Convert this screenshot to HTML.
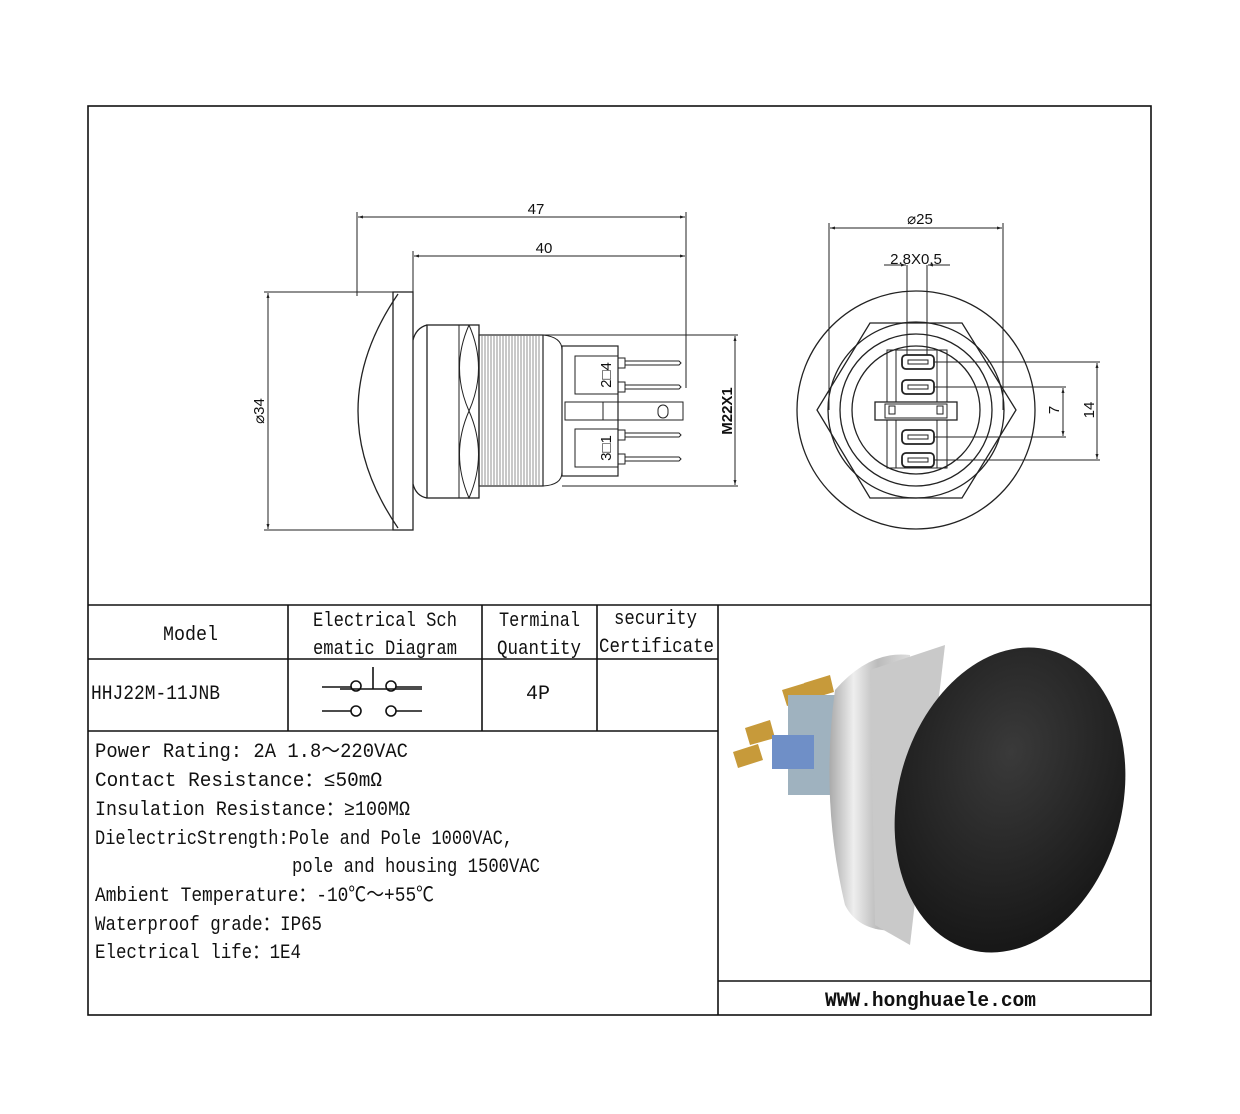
<!DOCTYPE html>
<html><head><meta charset="utf-8"><style>
html,body{margin:0;padding:0;background:#fff}
svg{display:block}
.t{font-family:"Liberation Mono","Noto Sans CJK SC",monospace;font-size:20px;fill:#111}
.d{font-family:"Liberation Sans",sans-serif;font-size:15px;fill:#111}
</style></head><body>
<svg width="1240" height="1114" viewBox="0 0 1240 1114" xmlns="http://www.w3.org/2000/svg">
<defs>
<marker id="a" viewBox="0 0 10 10" refX="10" refY="5" markerWidth="8" markerHeight="5" orient="auto-start-reverse"><path d="M0,2 L10,5 L0,8 z" fill="#222"/></marker>
<linearGradient id="sil" x1="0" y1="0" x2="1" y2="0"><stop offset="0" stop-color="#aaa"/><stop offset=".3" stop-color="#eee"/><stop offset=".6" stop-color="#bbb"/><stop offset="1" stop-color="#ddd"/></linearGradient>
<radialGradient id="blk" cx=".45" cy=".35" r=".7"><stop offset="0" stop-color="#3a3a3a"/><stop offset="1" stop-color="#151515"/></radialGradient>
</defs>
<g fill="none" stroke="#111" stroke-width="1.6">
<rect x="88" y="106" width="1063" height="909"/>
<line x1="88" y1="605" x2="1151" y2="605"/>
<line x1="88" y1="659" x2="718" y2="659"/>
<line x1="88" y1="731" x2="718" y2="731"/>
<line x1="288" y1="605" x2="288" y2="731"/>
<line x1="482" y1="605" x2="482" y2="731"/>
<line x1="597" y1="605" x2="597" y2="731"/>
<line x1="718" y1="605" x2="718" y2="1015"/>
<line x1="718" y1="981" x2="1151" y2="981"/>
</g>
<!-- side view -->
<g fill="none" stroke="#222" stroke-width="1">
<line x1="357" y1="212" x2="357" y2="296"/>
<line x1="686" y1="212" x2="686" y2="388"/>
<line x1="413" y1="251" x2="413" y2="292"/>
<line x1="358" y1="217" x2="685" y2="217" marker-start="url(#a)" marker-end="url(#a)"/>
<line x1="414" y1="256" x2="685" y2="256" marker-start="url(#a)" marker-end="url(#a)"/>
<line x1="264" y1="292" x2="398" y2="292"/>
<line x1="264" y1="530" x2="398" y2="530"/>
<line x1="268" y1="293" x2="268" y2="529" marker-start="url(#a)" marker-end="url(#a)"/>
<path d="M398 294 Q318 411 398 528" stroke-width="1.3"/>
<rect x="393" y="292" width="20" height="238" stroke-width="1.3"/>
<path d="M427 325 Q416 328 413 340 M413 484 Q416 496 427 498" stroke-width="1.3"/>
<rect x="427" y="325" width="52" height="173" stroke-width="1.3"/>
<line x1="459" y1="325" x2="459" y2="498"/>
<path d="M469 325 Q450 368 469 411 Q488 368 469 325 M469 411 Q450 454 469 498 Q488 454 469 411"/>
<rect x="479" y="335" width="64" height="151" stroke-width="1.2"/>
<path d="M543 335 Q562 337 562 350 L562 472 Q562 485 543 486"/>
<rect x="562" y="346" width="56" height="130" stroke-width="1.2"/>
<rect x="575" y="356" width="43" height="38"/>
<rect x="575" y="429" width="43" height="38"/>
<rect x="565" y="402" width="118" height="18" />
<line x1="603" y1="402" x2="603" y2="420"/>
<rect x="658" y="405" width="10" height="13" rx="5"/>
<rect x="618" y="358" width="7" height="10"/><rect x="618" y="382" width="7" height="10"/>
<rect x="618" y="430" width="7" height="10"/><rect x="618" y="454" width="7" height="10"/>
<path d="M625 361 L679 361 L681 363 L679 365 L625 365 M625 385 L679 385 L681 387 L679 389 L625 389 M625 433 L679 433 L681 435 L679 437 L625 437 M625 457 L679 457 L681 459 L679 461 L625 461"/>
<line x1="543" y1="335" x2="738" y2="335"/>
<line x1="562" y1="486" x2="738" y2="486"/>
<line x1="735" y1="336" x2="735" y2="485" marker-start="url(#a)" marker-end="url(#a)"/>
</g>
<g stroke="#777" stroke-width="0.8">
<path d="M482 335 V486 M485 335 V486 M488 335 V486 M491 335 V486 M494 335 V486 M497 335 V486 M500 335 V486 M503 335 V486 M506 335 V486 M509 335 V486 M512 335 V486 M515 335 V486 M518 335 V486 M521 335 V486 M524 335 V486 M527 335 V486 M530 335 V486 M533 335 V486 M536 335 V486 M539 335 V486"/>
</g>
<text class="d" x="536" y="214" text-anchor="middle">47</text>
<text class="d" x="544" y="253" text-anchor="middle">40</text>
<text class="d" transform="translate(264,411) rotate(-90)" text-anchor="middle">⌀34</text>
<text class="d" transform="translate(732,411) rotate(-90)" text-anchor="middle" font-weight="bold">M22X1</text>
<text class="d" transform="translate(611,375) rotate(-90)" text-anchor="middle" font-family="Liberation Serif">2□4</text>
<text class="d" transform="translate(611,448) rotate(-90)" text-anchor="middle" font-family="Liberation Serif">3□1</text>
<!-- front view -->
<g fill="none" stroke="#222" stroke-width="1.3">
<circle cx="916" cy="410" r="119"/>
<path d="M870 323 L962 323 L1016 410 L962 498 L870 498 L817 410 Z"/>
<circle cx="916" cy="410" r="88"/>
<circle cx="916" cy="410" r="76"/>
<circle cx="916" cy="410" r="64"/>
<rect x="887" y="350" width="60" height="118" stroke-width="1"/>
<rect x="896" y="350" width="41" height="118" stroke-width="1"/>
<rect x="875" y="402" width="82" height="18" fill="#fff"/>
<rect x="885" y="404" width="62" height="14" fill="#fff" stroke-width="1"/>
<rect x="889" y="406" width="6" height="8" stroke-width="1"/>
<rect x="937" y="406" width="6" height="8" stroke-width="1"/>
<g stroke-width="1.8" fill="#fff">
<rect x="902" y="355" width="32" height="14" rx="4"/>
<rect x="902" y="380" width="32" height="14" rx="4"/>
<rect x="902" y="430" width="32" height="14" rx="4"/>
<rect x="902" y="453" width="32" height="14" rx="4"/>
</g>
<g stroke-width="1"><rect x="908" y="360" width="20" height="4"/><rect x="908" y="385" width="20" height="4"/><rect x="908" y="435" width="20" height="4"/><rect x="908" y="458" width="20" height="4"/></g>
</g>
<g fill="none" stroke="#222" stroke-width="1">
<line x1="829" y1="223" x2="829" y2="410"/>
<line x1="1003" y1="223" x2="1003" y2="410"/>
<line x1="830" y1="228" x2="1002" y2="228" marker-start="url(#a)" marker-end="url(#a)"/>
<line x1="907" y1="265" x2="907" y2="355"/>
<line x1="927" y1="265" x2="927" y2="355"/>
<line x1="884" y1="265" x2="906" y2="265" marker-end="url(#a)"/>
<line x1="950" y1="265" x2="928" y2="265" marker-end="url(#a)"/>
<line x1="934" y1="362" x2="1100" y2="362"/>
<line x1="934" y1="460" x2="1100" y2="460"/>
<line x1="934" y1="387" x2="1066" y2="387"/>
<line x1="934" y1="437" x2="1066" y2="437"/>
<line x1="1063" y1="388" x2="1063" y2="436" marker-start="url(#a)" marker-end="url(#a)"/>
<line x1="1097" y1="363" x2="1097" y2="459" marker-start="url(#a)" marker-end="url(#a)"/>
</g>
<text class="d" x="920" y="224" text-anchor="middle">⌀25</text>
<text class="d" x="916" y="264" text-anchor="middle" font-family="Liberation Mono" font-size="16">2.8X0.5</text>
<text class="d" transform="translate(1059,410) rotate(-90)" text-anchor="middle">7</text>
<text class="d" transform="translate(1094,410) rotate(-90)" text-anchor="middle">14</text>
<!-- table text -->
<g class="t">
<text x="163" y="640" textLength="55" lengthAdjust="spacingAndGlyphs">Model</text>
<text x="313" y="626" textLength="144" lengthAdjust="spacingAndGlyphs">Electrical Sch</text>
<text x="313" y="654" textLength="144" lengthAdjust="spacingAndGlyphs">ematic Diagram</text>
<text x="499" y="626" textLength="81" lengthAdjust="spacingAndGlyphs">Terminal</text>
<text x="497" y="654" textLength="84" lengthAdjust="spacingAndGlyphs">Quantity</text>
<text x="614" y="624" textLength="83" lengthAdjust="spacingAndGlyphs">security</text>
<text x="599" y="652" textLength="115" lengthAdjust="spacingAndGlyphs">Certificate</text>
<text x="91" y="699" textLength="129" lengthAdjust="spacingAndGlyphs">HHJ22M-11JNB</text>
<text x="538" y="699" text-anchor="middle">4P</text>
<text x="95" y="757" textLength="313" lengthAdjust="spacingAndGlyphs">Power Rating: 2A  1.8～220VAC</text>
<text x="95" y="786" textLength="287" lengthAdjust="spacingAndGlyphs">Contact Resistance：≤50mΩ</text>
<text x="95" y="815" textLength="315" lengthAdjust="spacingAndGlyphs">Insulation Resistance：≥100MΩ</text>
<text x="95" y="844" textLength="418" lengthAdjust="spacingAndGlyphs">DielectricStrength:Pole and Pole 1000VAC,</text>
<text x="292" y="872" textLength="248" lengthAdjust="spacingAndGlyphs">pole and housing 1500VAC</text>
<text x="95" y="901" textLength="339" lengthAdjust="spacingAndGlyphs">Ambient Temperature：-10℃～+55℃</text>
<text x="95" y="930" textLength="227" lengthAdjust="spacingAndGlyphs">Waterproof grade：IP65</text>
<text x="95" y="958" textLength="206" lengthAdjust="spacingAndGlyphs">Electrical life：1E4</text>
<text x="825" y="1006" font-weight="bold" textLength="211" lengthAdjust="spacingAndGlyphs">WWW.honghuaele.com</text>
</g>
<!-- schematic -->
<g fill="none" stroke="#111" stroke-width="1.6">
<line x1="322" y1="687" x2="351" y2="687"/><circle cx="356" cy="686" r="5"/>
<line x1="340" y1="689" x2="422" y2="689"/>
<line x1="373" y1="667" x2="373" y2="689"/>
<circle cx="391" cy="686" r="5"/><line x1="396" y1="687" x2="422" y2="687"/>
<line x1="322" y1="711" x2="351" y2="711"/><circle cx="356" cy="711" r="5"/>
<circle cx="391" cy="711" r="5"/><line x1="396" y1="711" x2="422" y2="711"/>
</g>
<!-- photo -->
<g>
<path d="M782 690 L805 683 L810 700 L787 706 Z M745 728 L770 720 L775 738 L750 745 Z M733 752 L758 744 L763 760 L738 768 Z M804 683 L830 675 L834 692 L808 700 Z" fill="#c79a3a"/>
<rect x="788" y="695" width="50" height="100" fill="#9fb2bf"/>
<rect x="772" y="735" width="42" height="34" fill="#6f8fc7"/>
<path d="M835 690 Q870 650 910 655 L905 930 Q860 935 845 905 Q820 800 835 690 Z" fill="url(#sil)"/>
<path d="M870 670 L945 645 L910 945 L875 925 Z" fill="#c9c9c9"/>
<ellipse cx="1010" cy="800" rx="112" ry="155" transform="rotate(15 1010 800)" fill="url(#blk)"/>
</g>
</svg>
</body></html>
